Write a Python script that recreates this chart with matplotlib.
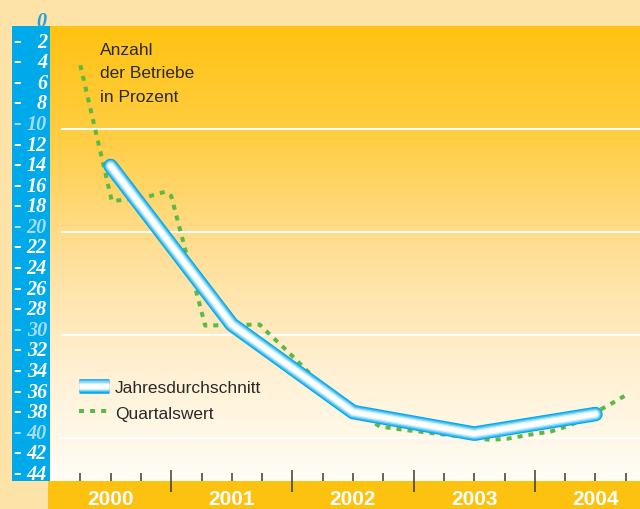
import numpy as np
import matplotlib
matplotlib.use("Agg")
import matplotlib.pyplot as plt
import matplotlib.transforms as mtransforms
from matplotlib.colors import LinearSegmentedColormap
from matplotlib.lines import Line2D
from matplotlib.legend_handler import HandlerTuple
from matplotlib.patches import Rectangle

# Daten (Anzahl der Betriebe in Prozent)
jahre = [2000, 2001, 2002, 2003, 2004]
jahresdurchschnitt = [-13.6, -29.0, -37.5, -39.6, -37.7]

# Quartalswerte, Zeit in Jahren
quartal_t = [2000.25, 2000.51, 2000.77, 2000.95, 2001.0, 2001.28, 2001.73, 2001.79,
             2001.96, 2002.3, 2002.72, 2002.90, 2003.63, 2003.77, 2003.96, 2004.13,
             2004.29, 2004.60, 2004.76]
quartal_wert = [-3.8, -17.0, -16.7, -16.1, -16.5, -29.1, -29.0, -29.7,
                -31.6, -35.6, -38.9, -39.2, -40.2, -40.1, -39.7, -39.4,
                -38.8, -36.9, -35.8]

y_werte = list(range(0, -46, -2))
gitter = [-10, -20, -30, -40]

PEACH = "#FEE3A8"
BLAU = "#00A9EA"
ORANGE = "#FDC20F"
GRUEN = "#5DB946"
DUNKEL = "#2B2A29"

fig = plt.figure(figsize=(6.4, 5.1), dpi=100)
fig.patch.set_facecolor(PEACH)

W, H = 640.0, 510.0
ax = fig.add_axes([50 / W, 28 / H, 590 / W, 455 / H])
ax.set_xlim(2000, 2000 + 590 / 121.2)
ax.set_ylim(-44.2, 0)
for s in ax.spines.values():
    s.set_visible(False)
ax.set_yticks([])

# Hintergrundverlauf
cmap = LinearSegmentedColormap.from_list(
    "bg", ["#FFC312", "#FFCE45", "#FFDF98", "#FFF0D2", "#FFFDF6"])
grad = np.linspace(0, 1, 256).reshape(-1, 1)
ax.imshow(grad, extent=[*ax.get_xlim(), *ax.get_ylim()], aspect="auto",
          cmap=cmap, origin="upper", zorder=0)

for g in gitter:
    ax.axhline(g, xmin=0.02, color="white", lw=1.5, zorder=1)

# Blaue Leiste links und orangefarbenes Band unten
fig.add_artist(Rectangle((12 / W, 28 / H), 38 / W, 455 / H, transform=fig.transFigure,
                         facecolor=BLAU, edgecolor="none", zorder=-1))
fig.add_artist(Rectangle((48 / W, 0), 1, 28 / H, transform=fig.transFigure,
                         facecolor=ORANGE, edgecolor="none", zorder=-1))

# Linien
ax.plot(quartal_t, quartal_wert, color=GRUEN, lw=2.9, dashes=(1.25, 1.5),
        dash_capstyle="butt", zorder=2)

tube = [(BLAU, 10.5), ("#3DBDF0", 8.8), ("#8FD8F6", 7.0), ("#D2F0FB", 5.2), ("white", 3.4)]
x_j = [j + 0.5 for j in jahre]
for c, w in tube:
    ax.plot(x_j, jahresdurchschnitt, color=c, lw=w, solid_capstyle="round",
            solid_joinstyle="round", zorder=3)

# X-Achse
ax.set_xticks(jahre[1:])
ax.set_xticks([j + q for j in jahre for q in (0.25, 0.5, 0.75)], minor=True)
ax.tick_params(axis="x", which="major", direction="inout", length=16, width=1.1,
               color="#3a3a3a", labelbottom=False)
ax.tick_params(axis="x", which="minor", direction="in", length=5.8, width=1.1,
               color="#3a3a3a")
trans_x = mtransforms.blended_transform_factory(ax.transData, fig.transFigure)
for j in jahre:
    ax.text(j + 0.5, 10.5 / H, str(j), transform=trans_x, ha="center", va="center",
            color="white", fontsize=15, fontweight="bold", family="Liberation Sans",
            clip_on=False)

# Y-Beschriftung
trans_y = mtransforms.blended_transform_factory(fig.transFigure, ax.transData)
lab = dict(family="Liberation Serif", fontweight="bold", style="italic", fontsize=14.5,
           va="baseline", clip_on=False)
for v in y_werte:
    if v == 0:
        ax.text(46 / W, v, "0", transform=trans_y, ha="right", color="#1AA3E0", **lab)
        continue
    farbe = "#A6DDF5" if v % 10 == 0 else "white"
    ax.text(13 / W, v, "-", transform=trans_y, ha="left", color=farbe,
            **{**lab, "fontsize": 17})
    ax.text(47 / W, v, str(-v), transform=trans_y, ha="right", color=farbe, **lab)

# Beschriftung
fig.text(100 / W, (H - 43) / H, "Anzahl\nder Betriebe\nin Prozent", ha="left", va="top",
         fontsize=12.5, family="Liberation Sans", color=DUNKEL, linespacing=1.7)

# Legende
tube_h = tuple(Line2D([], [], color=c, lw=w, solid_capstyle="butt") for c, w in tube)
gruen_h = Line2D([], [], color=GRUEN, lw=2.9, dashes=(1.25, 1.5), dash_capstyle="butt")
leg = ax.legend([tube_h, gruen_h], ["Jahresdurchschnitt", "Quartalswert"],
                handler_map={tuple: HandlerTuple(ndivide=1, pad=0)},
                loc="upper left", bbox_to_anchor=(0.049, 0.222), frameon=False,
                borderpad=0, borderaxespad=0, handlelength=1.72, handletextpad=0.35,
                labelspacing=0.59, prop={"family": "Liberation Sans", "size": 12.5})
for t in leg.get_texts():
    t.set_color(DUNKEL)

fig.savefig("out.png", dpi=100, facecolor=fig.get_facecolor())
